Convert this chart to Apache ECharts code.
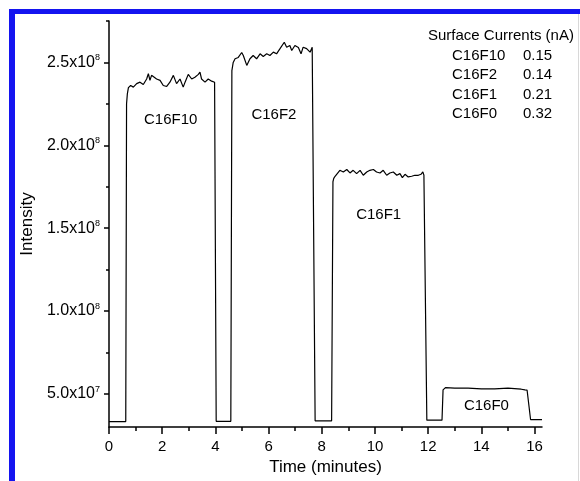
<!DOCTYPE html>
<html>
<head>
<meta charset="utf-8">
<script src="https://cdn.jsdelivr.net/npm/echarts@6/dist/echarts.min.js"></script>
<style>
  html, body { margin: 0; padding: 0; background: #fff; }
  #chart { width: 580px; height: 481px; }
</style>
</head>
<body>
<div id="chart"></div>
<script>
// intensity values are in units of 1e8
const baseline0 = [[0, 0.333], [0.63, 0.333]];
const peakF10 = [
  [0.66, 2.25], [0.69, 2.31], [0.73, 2.348], [0.815, 2.361], [0.915, 2.351], [1.04, 2.372],
  [1.165, 2.381], [1.29, 2.367], [1.415, 2.40], [1.48, 2.432], [1.54, 2.392], [1.60, 2.422],
  [1.67, 2.411], [1.79, 2.40], [1.92, 2.392], [2.04, 2.361], [2.17, 2.355], [2.29, 2.381],
  [2.42, 2.422], [2.54, 2.372], [2.67, 2.40], [2.79, 2.351], [2.86, 2.381], [2.98, 2.428],
  [3.11, 2.40], [3.23, 2.411], [3.36, 2.428], [3.42, 2.442], [3.48, 2.40], [3.61, 2.381],
  [3.73, 2.40], [3.86, 2.387], [3.93, 2.396], [3.97, 2.38]
];
const baseline1 = [[4.03, 0.334], [4.58, 0.334]];
const peakF2 = [
  [4.62, 2.45], [4.67, 2.50], [4.74, 2.522], [4.86, 2.53], [4.99, 2.56], [5.05, 2.542],
  [5.18, 2.482], [5.30, 2.522], [5.42, 2.542], [5.55, 2.522], [5.68, 2.552], [5.80, 2.536],
  [5.93, 2.552], [6.05, 2.542], [6.18, 2.562], [6.30, 2.552], [6.43, 2.583], [6.49, 2.572],
  [6.59, 2.622], [6.68, 2.592], [6.80, 2.602], [6.87, 2.572], [6.99, 2.602], [7.12, 2.59],
  [7.22, 2.552], [7.30, 2.592], [7.43, 2.583], [7.56, 2.562], [7.64, 2.592], [7.68, 2.584]
];
const baseline2 = [[7.75, 0.337], [8.37, 0.337]];
const peakF1 = [
  [8.42, 1.78], [8.45, 1.80], [8.50, 1.813], [8.68, 1.849], [8.81, 1.839], [8.94, 1.854],
  [9.06, 1.833], [9.18, 1.849], [9.31, 1.829], [9.44, 1.849], [9.56, 1.819], [9.69, 1.839],
  [9.81, 1.849], [9.94, 1.854], [10.06, 1.839], [10.19, 1.833], [10.31, 1.849], [10.44, 1.819],
  [10.56, 1.833], [10.69, 1.839], [10.82, 1.819], [10.94, 1.829], [11.03, 1.805], [11.13, 1.825],
  [11.25, 1.809], [11.38, 1.813], [11.50, 1.819], [11.63, 1.819], [11.73, 1.825], [11.80, 1.839],
  [11.84, 1.82]
];
const baseline3 = [[11.95, 0.341], [12.52, 0.341]];
const peakF0 = [
  [12.56, 0.524], [12.65, 0.538], [13.0, 0.534], [13.5, 0.534], [14.0, 0.530], [14.5, 0.530],
  [15.0, 0.534], [15.5, 0.528], [15.64, 0.524], [15.72, 0.522]
];
const baseline4 = [[15.85, 0.345], [16.28, 0.345]];

const xMajorTicks = [0, 2, 4, 6, 8, 10, 12, 14, 16];
const xMinorTicks = [1, 3, 5, 7, 9, 11, 13, 15];
const yMajorTicks = [0.5, 1.0, 1.5, 2.0, 2.5];
const yMinorTicks = [0.75, 1.25, 1.75, 2.25, 2.75];

const blockNames = ['C16F10', 'C16F2', 'C16F1', 'C16F0'];
const blockLabelTime = [2.32, 6.2, 10.14, 14.19];
const blockLabelIntensity = [2.151, 2.181, 1.578, 0.428];

const currentNames = ['C16F10', 'C16F2', 'C16F1', 'C16F0'];
const currentValues = ['0.15', '0.14', '0.21', '0.32'];

const FONT = 'Liberation Sans, Arial, sans-serif';

const trace = [].concat(baseline0, peakF10, baseline1, peakF2, baseline2, peakF1, baseline3, peakF0, baseline4);

function yLabel(v) {
  if (v >= 1) return '{b|' + v.toFixed(1) + 'x10}{s|8}';
  return '{b|' + (v * 10).toFixed(1) + 'x10}{s|7}';
}

const chart = echarts.init(document.getElementById('chart'), null, { renderer: 'canvas' });

const legendTexts = [{
  type: 'text', left: 428, top: 28,
  style: { text: 'Surface Currents (nA)', font: '15px ' + FONT, fill: '#000' }
}];
currentNames.forEach((n, i) => {
  legendTexts.push({
    type: 'text', left: 452, top: 48 + i * 19.5,
    style: { text: n, font: '15px ' + FONT, fill: '#000' }
  });
  legendTexts.push({
    type: 'text', left: 523, top: 48 + i * 19.5,
    style: { text: currentValues[i], font: '15px ' + FONT, fill: '#000' }
  });
});

const option = {
  backgroundColor: '#fff',
  animation: false,
  grid: { left: 109, right: 38, top: 21, bottom: 54 },
  xAxis: [{
    type: 'value', min: 0, max: 16.28,
    name: 'Time (minutes)', nameLocation: 'middle', nameGap: 32,
    nameTextStyle: { fontSize: 17, fontFamily: FONT, color: '#000' },
    axisLine: { show: true, lineStyle: { color: '#000', width: 1.5 } },
    axisTick: { show: true, customValues: xMajorTicks, length: 7, lineStyle: { color: '#000', width: 1.5 } },
    axisLabel: { customValues: xMajorTicks, margin: 12, fontSize: 15, fontFamily: FONT, color: '#000' },
    splitLine: { show: false }
  }, {
    type: 'value', min: 0, max: 16.28, position: 'bottom',
    axisLine: { show: false },
    axisTick: { show: true, customValues: xMinorTicks, length: 4, lineStyle: { color: '#000', width: 1.5 } },
    axisLabel: { show: false },
    splitLine: { show: false }
  }],
  yAxis: [{
    type: 'value', min: 0.3, max: 2.75,
    name: 'Intensity', nameLocation: 'middle', nameGap: 72,
    nameTextStyle: { fontSize: 17, fontFamily: FONT, color: '#000' },
    axisLine: { show: true, lineStyle: { color: '#000', width: 1.5 } },
    axisTick: { show: true, customValues: yMajorTicks, length: 5, lineStyle: { color: '#000', width: 1.5 } },
    axisLabel: {
      customValues: yMajorTicks, margin: 9, formatter: yLabel,
      rich: {
        b: { fontSize: 16, fontFamily: FONT, color: '#000', lineHeight: 18 },
        s: { fontSize: 9, fontFamily: FONT, color: '#000', verticalAlign: 'top', lineHeight: 10 }
      }
    },
    splitLine: { show: false }
  }, {
    type: 'value', min: 0.3, max: 2.75, position: 'left',
    axisLine: { show: false },
    axisTick: { show: true, customValues: yMinorTicks, length: 3, lineStyle: { color: '#000', width: 1.5 } },
    axisLabel: { show: false },
    splitLine: { show: false }
  }],
  series: [{
    type: 'line',
    data: trace,
    showSymbol: false,
    symbol: 'none',
    lineStyle: { color: '#000', width: 1.2 },
    z: 3
  }, {
    type: 'scatter',
    data: blockNames.map((n, i) => [blockLabelTime[i], blockLabelIntensity[i], n]),
    symbolSize: 1,
    itemStyle: { color: 'transparent', opacity: 1 },
    label: {
      show: true, position: 'inside', formatter: p => p.value[2],
      fontSize: 15, fontFamily: FONT, color: '#000', textBorderWidth: 0, opacity: 1
    }
  }],
  graphic: legendTexts.concat([
    { type: 'rect', shape: { x: 9, y: 9, width: 571, height: 5 }, style: { fill: '#1414f0' }, z: 100 },
    { type: 'rect', shape: { x: 9, y: 9, width: 6, height: 472 }, style: { fill: '#1414f0' }, z: 100 },
    { type: 'rect', shape: { x: 578, y: 14, width: 1, height: 467 }, style: { fill: '#d8d8d8' }, z: 100 }
  ])
};

chart.setOption(option);
</script>
</body>
</html>
